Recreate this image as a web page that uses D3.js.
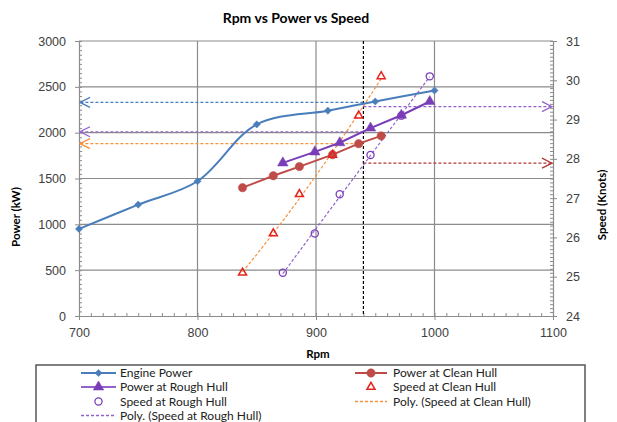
<!DOCTYPE html>
<html lang="en">
<head>
<meta charset="UTF-8">
<title>Rpm vs Power vs Speed</title>
<script src="https://cdnjs.cloudflare.com/ajax/libs/d3/7.8.4/d3.min.js"></script>
<style>
  body { margin: 0; background: #fff; }
  svg { font-family: Lato, "Open Sans", sans-serif; }
  .tick text { fill: #404040; font-size: 12.5px; }
</style>
</head>
<body>
<div id="chart"></div>
<script>
// engine curve
const engineRpm = [700, 750, 800, 850, 910, 950, 1000];
const enginePower = [950, 1215, 1470, 2090, 2240, 2340, 2460];
// clean hull
const cleanRpm = [838, 864, 886, 914, 936, 955];
const cleanPower = [1400, 1530, 1630, 1760, 1880, 1965];
const cleanSpeed = [25.1, 26.1, 27.1, 28.1, 29.1, 30.1];
// rough hull
const roughRpm = [872, 899, 920, 946, 972, 996];
const roughPower = [1670, 1790, 1890, 2050, 2190, 2340];
const roughSpeed = [25.1, 26.1, 27.1, 28.1, 29.1, 30.1];
// operating point read-offs
const opRpm = 940;
const powerReadings = [2330, 2010, 1880];   // engine, rough, clean (kW)
const speedReadings = [29.33, 27.89];       // knots
const xTicks = [700, 800, 900, 1000, 1100];
const powerTicks = [0, 500, 1000, 1500, 2000, 2500, 3000];
const speedTicks = [24, 25, 26, 27, 28, 29, 30, 31];

const W = 617, H = 422;
const m = { left: 79, right: 553, top: 41, bottom: 316 };

const blue = "#4a7ebb", red = "#be4b48", purple = "#7a3db8", purpleLt = "#9362cc",
      orange = "#f7923c", brightRed = "#e3231c", grid = "#8c8c8c";

const svg = d3.select("#chart").append("svg").attr("width", W).attr("height", H);

const x = d3.scaleLinear().domain([700, 1100]).range([m.left, m.right]);
const yP = d3.scaleLinear().domain([0, 3000]).range([m.bottom, m.top]);
const yS = d3.scaleLinear().domain([24, 31]).range([m.bottom, m.top]);
const fmt = d3.format("d");

// arrow markers (open chevrons)
const defs = svg.append("defs");
function chevron(id, color) {
  defs.append("marker").attr("id", id)
    .attr("viewBox", "0 -6 12 12").attr("refX", 11).attr("refY", 0)
    .attr("markerWidth", 12).attr("markerHeight", 12)
    .attr("markerUnits", "userSpaceOnUse").attr("orient", "auto")
    .append("path").attr("d", "M1,-5L11,0L1,5")
    .attr("fill", "none").attr("stroke", color).attr("stroke-width", 1.3);
}
chevron("arBlue", blue); chevron("arPurple", purpleLt);
chevron("arOrange", orange); chevron("arRed", "#b03a36");

// gridlines
svg.append("g").selectAll("line").data(powerTicks.slice(1)).join("line")
  .attr("x1", m.left).attr("x2", m.right)
  .attr("y1", d => yP(d)).attr("y2", d => yP(d))
  .attr("stroke", grid).attr("stroke-width", 1.2);
svg.append("g").selectAll("line").data(xTicks.slice(1, -1)).join("line")
  .attr("x1", d => x(d)).attr("x2", d => x(d))
  .attr("y1", m.top).attr("y2", m.bottom)
  .attr("stroke", grid).attr("stroke-width", 1.2);

// axes
function styleAxis(g) {
  g.select(".domain").attr("stroke", grid).attr("stroke-width", 1.2);
  g.selectAll(".tick line").attr("stroke", grid);
}
// minor ticks (inside)
svg.append("g").call(d3.axisTop(x).tickValues(d3.range(700, 1101, 10)).tickSize(3).tickFormat(""))
  .attr("transform", `translate(0,${m.bottom})`).call(styleAxis).select(".domain").remove();
svg.append("g").call(d3.axisRight(yP).tickValues(d3.range(0, 3001, 50)).tickSize(3).tickFormat(""))
  .attr("transform", `translate(${m.left},0)`).call(styleAxis).select(".domain").remove();
svg.append("g").call(d3.axisLeft(yS).tickValues(d3.range(240, 311, 1).map(d => d / 10)).tickSize(3).tickFormat(""))
  .attr("transform", `translate(${m.right},0)`).call(styleAxis).select(".domain").remove();

svg.append("g").attr("transform", `translate(0,${m.bottom})`)
  .call(d3.axisBottom(x).tickValues(xTicks).tickFormat(fmt).tickSize(4).tickPadding(8).tickSizeOuter(0))
  .call(styleAxis);
svg.append("g").attr("transform", `translate(${m.left},0)`)
  .call(d3.axisLeft(yP).tickValues(powerTicks).tickFormat(fmt).tickSize(4).tickPadding(9).tickSizeOuter(0))
  .call(styleAxis);
svg.append("g").attr("transform", `translate(${m.right},0)`)
  .call(d3.axisRight(yS).tickValues(speedTicks).tickFormat(fmt).tickSize(4).tickPadding(9).tickSizeOuter(0))
  .call(styleAxis);

// titles
svg.append("text").attr("x", 296).attr("y", 23).attr("text-anchor", "middle")
  .attr("font-size", 14).attr("font-weight", "bold").attr("fill", "#000").text("Rpm vs Power vs Speed");
svg.append("text").attr("x", 318).attr("y", 358).attr("text-anchor", "middle")
  .attr("font-size", 11.5).attr("font-weight", "bold").text("Rpm");
svg.append("text").attr("transform", "translate(20,217) rotate(-90)").attr("text-anchor", "middle")
  .attr("font-size", 11.5).attr("font-weight", "bold").text("Power (kW)");
svg.append("text").attr("transform", "translate(606,205) rotate(-90)").attr("text-anchor", "middle")
  .attr("font-size", 11.5).attr("font-weight", "bold").text("Speed (Knots)");

// operating rpm and read-off lines
svg.append("line").attr("x1", x(opRpm)).attr("x2", x(opRpm)).attr("y1", m.top).attr("y2", m.bottom)
  .attr("stroke", "#000").attr("stroke-width", 1.2).attr("stroke-dasharray", "3,2");
const leftColors = [[blue, "arBlue"], [purpleLt, "arPurple"], [orange, "arOrange"]];
powerReadings.forEach((p, i) => {
  svg.append("line").attr("x1", x(opRpm)).attr("x2", m.left + 1)
    .attr("y1", yP(p)).attr("y2", yP(p))
    .attr("stroke", leftColors[i][0]).attr("stroke-width", 1.2).attr("stroke-dasharray", "3,2")
    .attr("marker-end", `url(#${leftColors[i][1]})`);
});
const rightColors = [[purpleLt, "arPurple"], ["#b03a36", "arRed"]];
speedReadings.forEach((s, i) => {
  svg.append("line").attr("x1", x(opRpm)).attr("x2", m.right - 1)
    .attr("y1", yS(s)).attr("y2", yS(s))
    .attr("stroke", rightColors[i][0]).attr("stroke-width", 1.2).attr("stroke-dasharray", "3,2")
    .attr("marker-end", `url(#${rightColors[i][1]})`);
});

// 2nd-order polynomial trendline (least squares)
function polyFit(xs, ys) {
  const mx = d3.mean(xs);
  const u = xs.map(v => v - mx);
  const s = k => d3.sum(u, v => Math.pow(v, k));
  const t = k => d3.sum(u, (v, i) => Math.pow(v, k) * ys[i]);
  const A = [[xs.length, s(1), s(2)], [s(1), s(2), s(3)], [s(2), s(3), s(4)]];
  const b = [t(0), t(1), t(2)];
  for (let i = 0; i < 3; i++) {
    for (let j = i + 1; j < 3; j++) {
      const f = A[j][i] / A[i][i];
      for (let k = i; k < 3; k++) A[j][k] -= f * A[i][k];
      b[j] -= f * b[i];
    }
  }
  const c = [0, 0, 0];
  for (let i = 2; i >= 0; i--) {
    let v = b[i];
    for (let k = i + 1; k < 3; k++) v -= A[i][k] * c[k];
    c[i] = v / A[i][i];
  }
  return xv => c[0] + c[1] * (xv - mx) + c[2] * (xv - mx) * (xv - mx);
}
function trend(xs, ys, color) {
  const f = polyFit(xs, ys);
  const pts = d3.range(0, 41).map(i => {
    const xv = xs[0] + (xs[xs.length - 1] - xs[0]) * i / 40;
    return [x(xv), yS(f(xv))];
  });
  svg.append("path").attr("d", d3.line()(pts)).attr("fill", "none")
    .attr("stroke", color).attr("stroke-width", 1.2).attr("stroke-dasharray", "3,2");
}
trend(cleanRpm, cleanSpeed, orange);
trend(roughRpm, roughSpeed, purpleLt);

// series lines
const line = d3.line();
svg.append("path").attr("d", d3.line().curve(d3.curveCatmullRom.alpha(0.5))(engineRpm.map((r, i) => [x(r), yP(enginePower[i])])))
  .attr("fill", "none").attr("stroke", blue).attr("stroke-width", 2);
svg.append("path").attr("d", line(cleanRpm.map((r, i) => [x(r), yP(cleanPower[i])])))
  .attr("fill", "none").attr("stroke", red).attr("stroke-width", 2);
svg.append("path").attr("d", line(roughRpm.map((r, i) => [x(r), yP(roughPower[i])])))
  .attr("fill", "none").attr("stroke", purple).attr("stroke-width", 2);

// markers
const diamond = d3.symbolSquare;
const sym = (type, size) => d3.symbol().type(type).size(size)();
function markers(xs, ys, scale, type, size, fill, stroke, sw, rot) {
  svg.append("g").selectAll("path").data(xs).join("path")
    .attr("transform", (d, i) => `translate(${x(d)},${scale(ys[i])}) rotate(${rot || 0})`)
    .attr("d", sym(type, size)).attr("fill", fill).attr("stroke", stroke).attr("stroke-width", sw);
}
markers(engineRpm, enginePower, yP, diamond, 26, blue, blue, 0.5, 45);
markers(cleanRpm, cleanPower, yP, d3.symbolCircle, 55, red, red, 0.5);
markers(roughRpm, roughPower, yP, d3.symbolTriangle, 48, purple, purple, 0.5);
markers(cleanRpm, cleanSpeed, yS, d3.symbolTriangle, 28, "none", brightRed, 1.5);
markers(roughRpm, roughSpeed, yS, d3.symbolCircle, 40, "none", purple, 1.3);

// legend
svg.append("rect").attr("x", 36).attr("y", 365).attr("width", 549).attr("height", 70)
  .attr("fill", "#fff").attr("stroke", "#555").attr("stroke-width", 1.5);
const legendItems = [
  { label: "Engine Power", col: 0, row: 0, line: blue, mk: diamond, ms: 26, rot: 45, fill: blue, stroke: blue },
  { label: "Power at Clean Hull", col: 1, row: 0, line: red, mk: d3.symbolCircle, ms: 55, fill: red, stroke: red },
  { label: "Power at Rough Hull", col: 0, row: 1, line: purpleLt, mk: d3.symbolTriangle, ms: 48, fill: purple, stroke: purple },
  { label: "Speed at Clean Hull", col: 1, row: 1, mk: d3.symbolTriangle, ms: 28, fill: "none", stroke: brightRed, sw: 1.5 },
  { label: "Speed at Rough Hull", col: 0, row: 2, mk: d3.symbolCircle, ms: 40, fill: "none", stroke: purple, sw: 1.3 },
  { label: "Poly. (Speed at Clean Hull)", col: 1, row: 2, line: orange, dash: true },
  { label: "Poly. (Speed at Rough Hull)", col: 0, row: 3, line: purpleLt, dash: true }
];
const colX = [[81, 116, 120], [355, 387, 393]];
const rowY = [373, 387, 401.5, 415.5];
legendItems.forEach(it => {
  const [x0, x1, tx] = colX[it.col];
  const y = rowY[it.row];
  const g = svg.append("g");
  if (it.line) {
    g.append("line").attr("x1", x0).attr("x2", x1).attr("y1", y).attr("y2", y)
      .attr("stroke", it.line).attr("stroke-width", it.dash ? 1.4 : 2)
      .attr("stroke-dasharray", it.dash ? "3,2" : null);
  }
  if (it.mk) {
    g.append("path").attr("transform", `translate(${(x0 + x1) / 2},${y}) rotate(${it.rot || 0})`)
      .attr("d", sym(it.mk, it.ms)).attr("fill", it.fill).attr("stroke", it.stroke)
      .attr("stroke-width", it.sw || 0.5);
  }
  g.append("text").attr("x", tx).attr("y", y + 4.2).attr("font-size", 12).attr("fill", "#222").text(it.label);
});
</script>
</body>
</html>
